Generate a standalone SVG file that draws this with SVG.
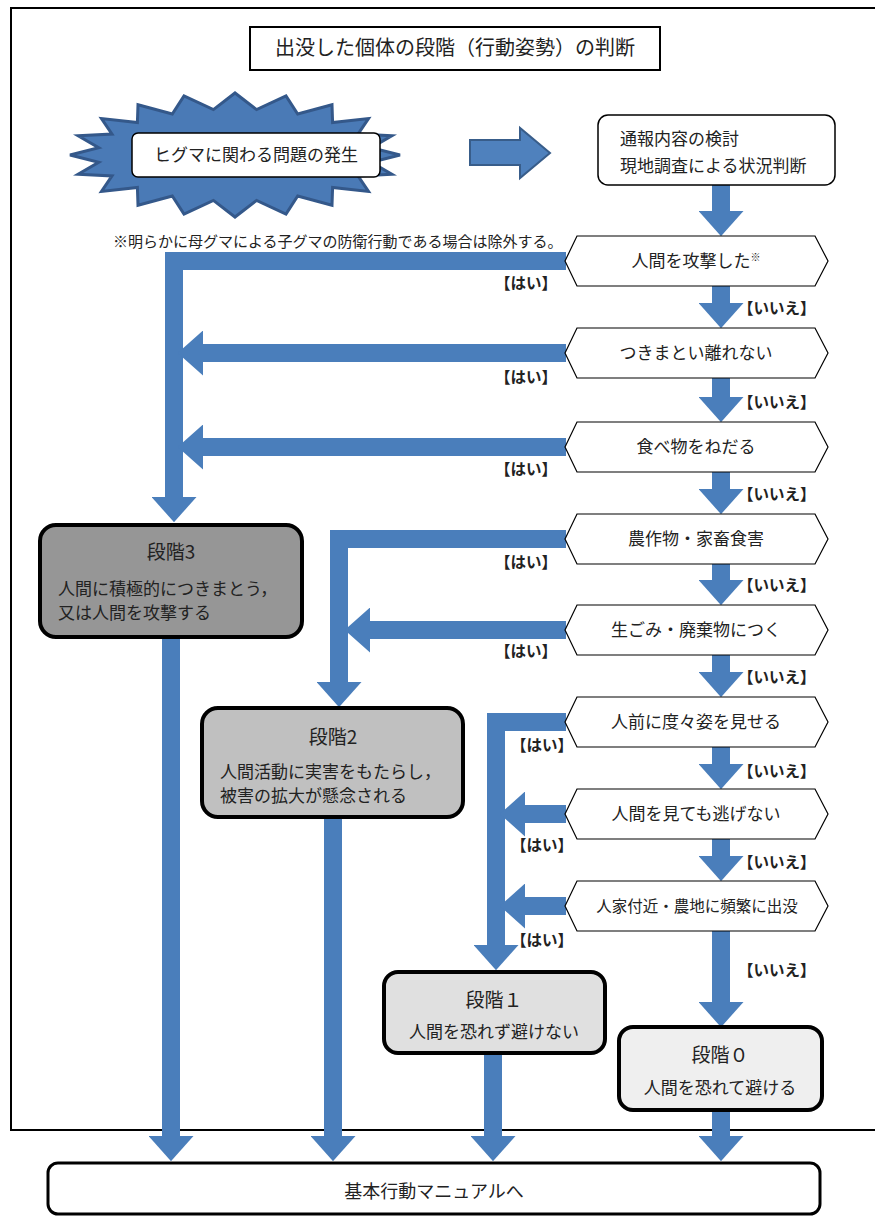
<svg xmlns="http://www.w3.org/2000/svg" width="875" height="1217" viewBox="0 0 875 1217">
  <defs>
    <style>
      text { font-family: "Noto Sans CJK JP", "Noto Sans", sans-serif; fill: #222; }
      .frame { fill: #fff; stroke: #000; stroke-width: 2; }
      .box { fill: #fff; stroke: #000; stroke-width: 1.5; }
      .hex { fill: #fff; stroke: #000; stroke-width: 1.2; }
      .stage { stroke: #000; stroke-width: 4; }
      .flow { fill: none; stroke: #4a7ebb; stroke-width: 18; stroke-linejoin: miter; marker-end: url(#ah); }
      .t17 { font-size: 17px; }
      .lbl { font-size: 15.5px; font-weight: bold; }
      .c { text-anchor: middle; }
    </style>
    <marker id="ah" viewBox="0 0 10 10" refX="0" refY="5" markerWidth="1.4" markerHeight="2.5" markerUnits="strokeWidth" orient="auto" preserveAspectRatio="none">
      <path d="M0,0L10,5L0,10z" fill="#4a7ebb"/>
    </marker>
  </defs>

  <!-- outer frame -->
  <rect class="frame" x="11" y="8" width="880" height="1122"/>

  <!-- connectors -->
  <g id="connectors">
    <!-- start to survey -->
    <polygon points="470,140 520,140 520,128 550,153 520,178 520,165 470,165" fill="#4f81bd" stroke="#385d8a" stroke-width="2"/>
    <!-- main column (no) -->
    <path class="flow" d="M721,185V211"/>
    <path class="flow" d="M721,286V303"/>
    <path class="flow" d="M721,378V397"/>
    <path class="flow" d="M721,472V489"/>
    <path class="flow" d="M721,564V580"/>
    <path class="flow" d="M721,655V672"/>
    <path class="flow" d="M721,747V764"/>
    <path class="flow" d="M721,839V856"/>
    <path class="flow" d="M721,931V1002"/>
    <!-- yes branches to stage 3 -->
    <path class="flow" d="M566,261H174V497"/>
    <path class="flow" d="M566,353H203"/>
    <path class="flow" d="M566,447H203"/>
    <!-- yes branches to stage 2 -->
    <path class="flow" d="M566,539H339V682"/>
    <path class="flow" d="M566,630H370"/>
    <!-- yes branches to stage 1 -->
    <path class="flow" d="M566,722H496V945"/>
    <path class="flow" d="M566,814H525"/>
    <path class="flow" d="M566,906H525"/>
    <!-- stages to manual -->
    <path class="flow" d="M171,637V1136"/>
    <path class="flow" d="M333,817V1136"/>
    <path class="flow" d="M493,1053V1136"/>
    <path class="flow" d="M721,1110V1136"/>
  </g>

  <!-- title -->
  <g id="title">
    <rect x="250" y="27" width="410" height="43" fill="#fff" stroke="#000" stroke-width="2"/>
    <text class="c" x="455" y="55" font-size="20">出没した個体の段階（行動姿勢）の判断</text>
  </g>

  <!-- problem occurrence -->
  <g id="start">
    <polygon fill="#4a7ab6" stroke="#34588a" stroke-width="3" points="400,155 371.3,162.2 391.9,174.2 358,175.9 368.5,191.4 332.6,187.5 332,205.2 297.7,196 286,214 256.6,200.4 235,217 213.4,200.4 184,214 172.3,196 138,205.2 137.4,187.5 101.5,191.4 112,175.9 78.1,174.2 98.7,162.2 70,155 98.7,147.8 78.1,135.8 112,134.1 101.5,118.6 137.4,122.5 138,104.8 172.3,114 184,96 213.4,109.6 235,93 256.6,109.6 286,96 297.7,114 332,104.8 332.6,122.5 368.5,118.6 358,134.1 391.9,135.8 371.3,147.8"/>
    <rect x="132" y="133" width="248" height="44" rx="6" fill="#fff" stroke="#000" stroke-width="1.5"/>
    <text class="c t17" x="256" y="161">ヒグマに関わる問題の発生</text>
  </g>

  <!-- survey -->
  <g id="survey">
    <rect class="box" x="598" y="115" width="237" height="70" rx="10"/>
    <text class="t17" x="620" y="145">通報内容の検討</text>
    <text class="t17" x="620" y="172">現地調査による状況判断</text>
  </g>

  <text id="note" x="113" y="247" font-size="15">※明らかに母グマによる子グマの防衛行動である場合は除外する。</text>

  <!-- decisions -->
  <g id="q1">
    <polygon class="hex" points="565,261 577,236 815,236 828,261 815,286 577,286"/>
    <text class="c t17" x="696" y="267">人間を攻撃した<tspan font-size="10" dy="-6">※</tspan></text>
  </g>
  <g id="q2">
    <polygon class="hex" points="565,353 577,328 815,328 828,353 815,378 577,378"/>
    <text class="c t17" x="696" y="359">つきまとい離れない</text>
  </g>
  <g id="q3">
    <polygon class="hex" points="565,447 577,422 815,422 828,447 815,472 577,472"/>
    <text class="c t17" x="696" y="453">食べ物をねだる</text>
  </g>
  <g id="q4">
    <polygon class="hex" points="565,539 577,514 815,514 828,539 815,564 577,564"/>
    <text class="c t17" x="696" y="545">農作物・家畜食害</text>
  </g>
  <g id="q5">
    <polygon class="hex" points="565,630 577,605 815,605 828,630 815,655 577,655"/>
    <text class="c t17" x="696" y="636">生ごみ・廃棄物につく</text>
  </g>
  <g id="q6">
    <polygon class="hex" points="565,722 577,697 815,697 828,722 815,747 577,747"/>
    <text class="c t17" x="696" y="728">人前に度々姿を見せる</text>
  </g>
  <g id="q7">
    <polygon class="hex" points="565,814 577,789 815,789 828,814 815,839 577,839"/>
    <text class="c t17" x="696" y="820">人間を見ても逃げない</text>
  </g>
  <g id="q8">
    <polygon class="hex" points="565,906 577,881 815,881 828,906 815,931 577,931"/>
    <text class="c" x="697" y="912" font-size="15.5">人家付近・農地に頻繁に出没</text>
  </g>

  <!-- branch labels -->
  <g id="labels">
    <text class="lbl" x="495" y="289">【はい】</text>
    <text class="lbl" x="495" y="383">【はい】</text>
    <text class="lbl" x="495" y="475">【はい】</text>
    <text class="lbl" x="495" y="568">【はい】</text>
    <text class="lbl" x="495" y="657">【はい】</text>
    <text class="lbl" x="511" y="751">【はい】</text>
    <text class="lbl" x="511" y="851">【はい】</text>
    <text class="lbl" x="511" y="946">【はい】</text>
    <text class="lbl" x="738" y="314">【いいえ】</text>
    <text class="lbl" x="738" y="408">【いいえ】</text>
    <text class="lbl" x="738" y="500">【いいえ】</text>
    <text class="lbl" x="738" y="591">【いいえ】</text>
    <text class="lbl" x="738" y="683">【いいえ】</text>
    <text class="lbl" x="738" y="777">【いいえ】</text>
    <text class="lbl" x="738" y="868">【いいえ】</text>
    <text class="lbl" x="738" y="976">【いいえ】</text>
  </g>

  <!-- stages -->
  <g id="stage3">
    <rect class="stage" x="40" y="525" width="262" height="112" rx="16" fill="#969696"/>
    <text class="c" x="171" y="559" font-size="19">段階3</text>
    <text class="t17" x="58" y="595">人間に積極的につきまとう，</text>
    <text class="t17" x="58" y="619">又は人間を攻撃する</text>
  </g>
  <g id="stage2">
    <rect class="stage" x="202" y="708" width="261" height="109" rx="16" fill="#c0c0c0"/>
    <text class="c" x="333" y="744" font-size="19">段階2</text>
    <text class="t17" x="220" y="778">人間活動に実害をもたらし，</text>
    <text class="t17" x="220" y="802">被害の拡大が懸念される</text>
  </g>
  <g id="stage1">
    <rect class="stage" x="384" y="972" width="221" height="81" rx="14" fill="#e0e0e0"/>
    <text class="c" x="494" y="1007" font-size="19">段階１</text>
    <text class="c t17" x="494" y="1038">人間を恐れず避けない</text>
  </g>
  <g id="stage0">
    <rect class="stage" x="619" y="1027" width="203" height="83" rx="14" fill="#efefef"/>
    <text class="c" x="720" y="1062" font-size="19">段階０</text>
    <text class="c t17" x="720" y="1094">人間を恐れて避ける</text>
  </g>

  <!-- manual -->
  <g id="manual">
    <rect x="48" y="1163" width="772" height="51" rx="10" fill="#fff" stroke="#000" stroke-width="3"/>
    <text class="c" x="434" y="1198" font-size="18">基本行動マニュアルへ</text>
  </g>
</svg>
